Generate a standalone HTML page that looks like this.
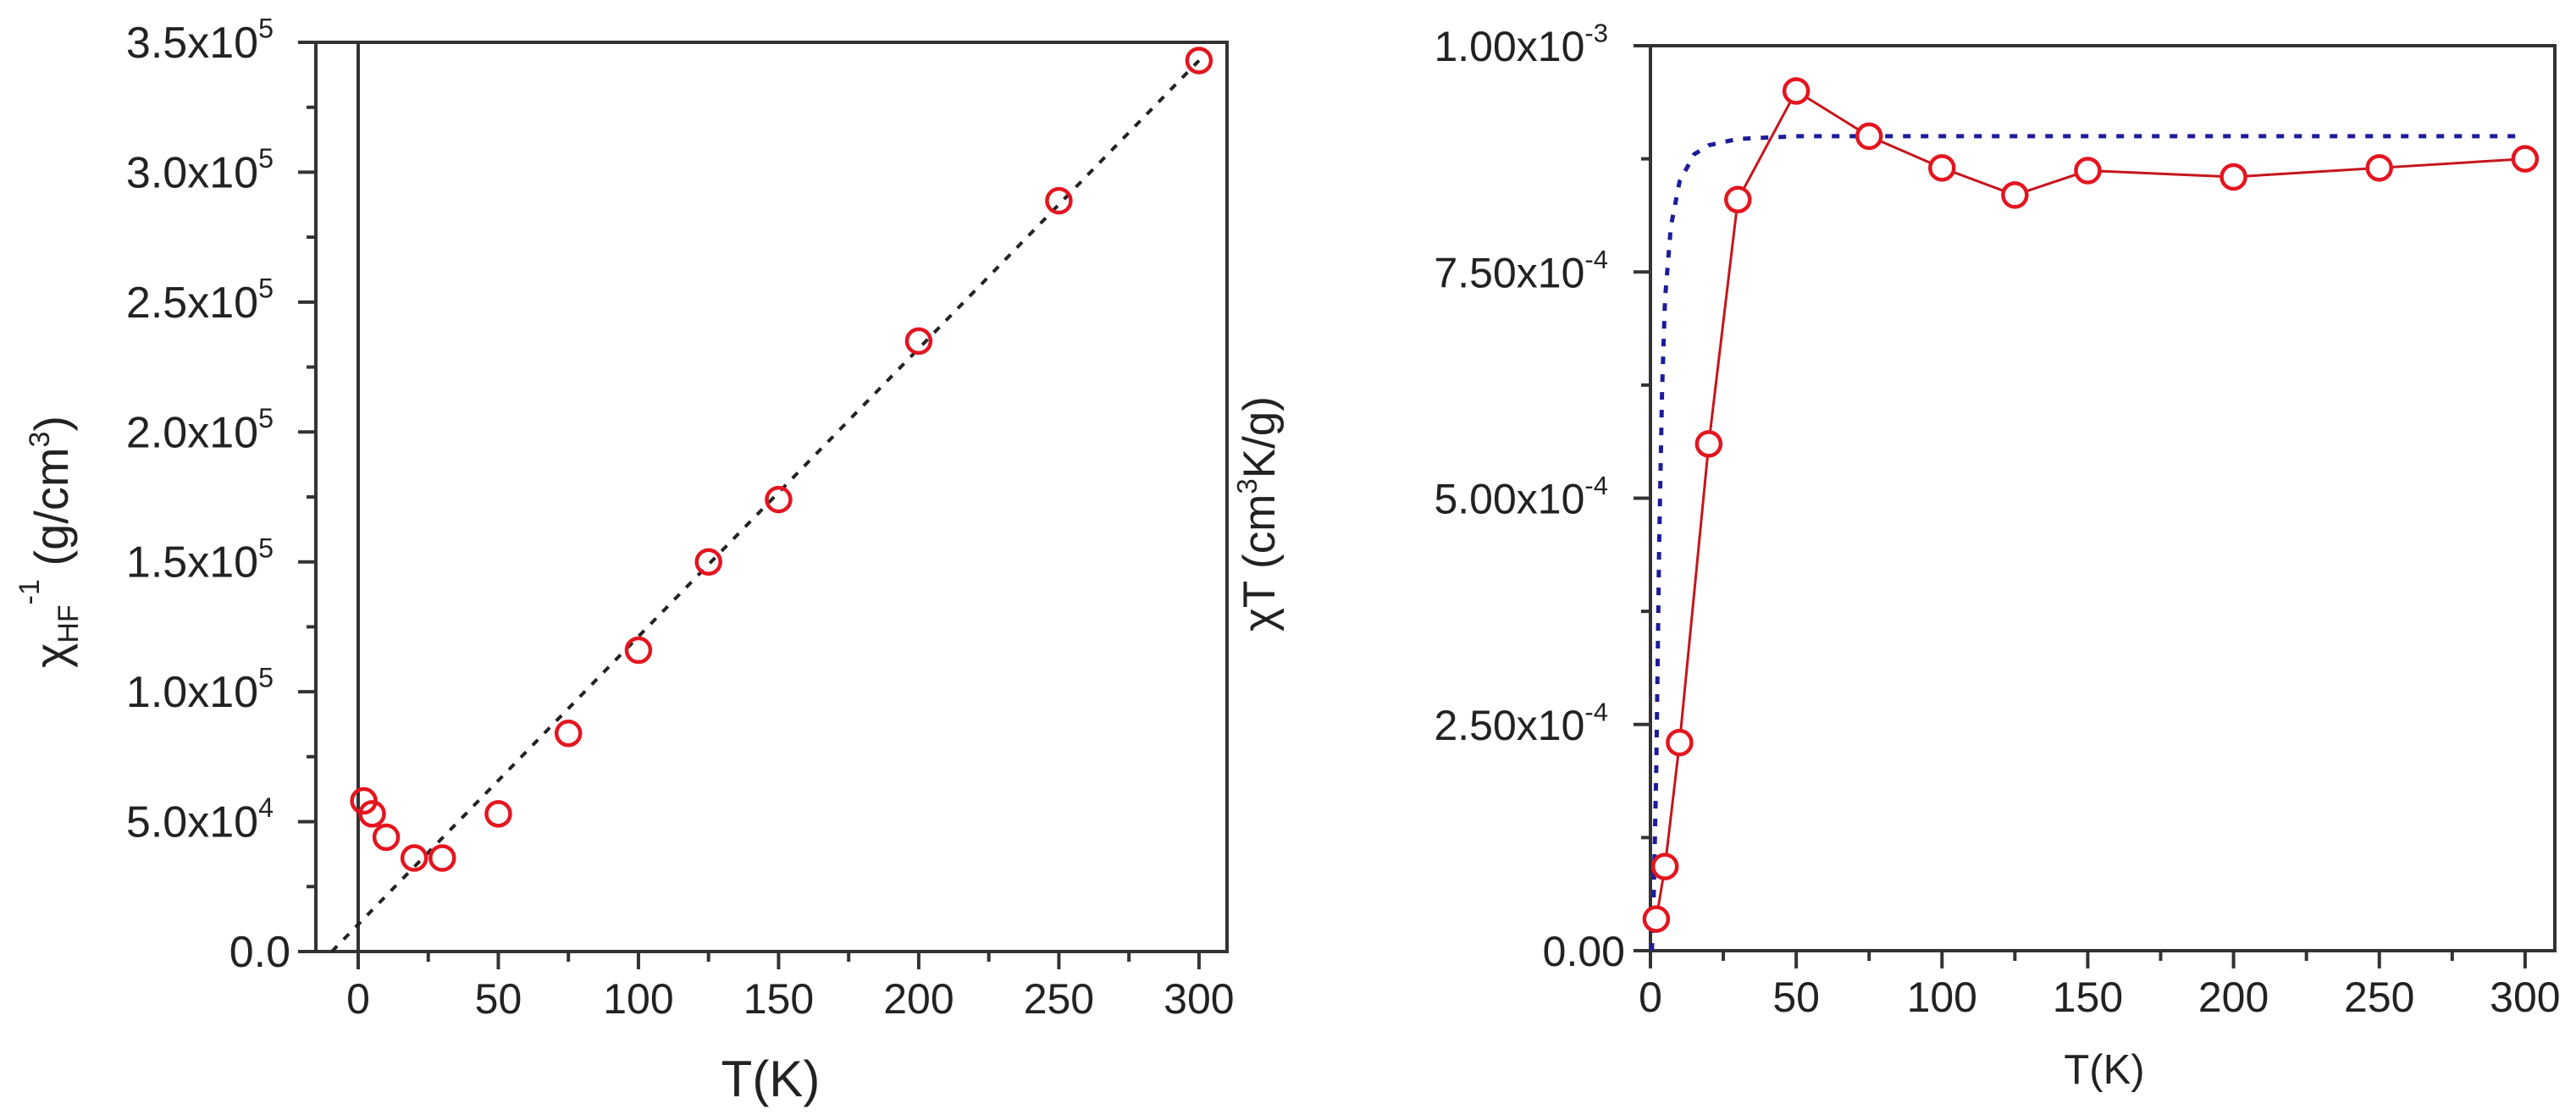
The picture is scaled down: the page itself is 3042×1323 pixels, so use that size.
<!DOCTYPE html>
<html><head><meta charset="utf-8"><style>
html,body{margin:0;padding:0;background:#fff}
svg{display:block}
text{font-family:"Liberation Sans",Arial,sans-serif;fill:#222}
</style></head><body>
<svg id="fig" width="3042" height="1323" viewBox="0 0 3042 1323" xmlns="http://www.w3.org/2000/svg">
<g id="left"></g>
<g id="right"></g>
</svg>
<script>
// ---- Left chart data ----
const leftT = [2, 5, 10, 20, 30, 50, 75, 100, 125, 150, 200, 250, 300];
const leftInvChi = [0.58, 0.53, 0.44, 0.36, 0.36, 0.53, 0.84, 1.16, 1.50, 1.74, 2.35, 2.89, 3.43]; // x1e5
const leftFitT = [-9.4, 300];
const leftFitVal = [0, 3.43];
const leftXTicks = [0, 50, 100, 150, 200, 250, 300];
const leftYTicks = [0, 0.5, 1.0, 1.5, 2.0, 2.5, 3.0, 3.5];
const leftYTickLabels = ["0.0", "5.0x10|4", "1.0x10|5", "1.5x10|5", "2.0x10|5", "2.5x10|5", "3.0x10|5", "3.5x10|5"];
// ---- Right chart data ----
const rightT = [2, 5, 10, 20, 30, 50, 75, 100, 125, 150, 200, 250, 300];
const rightChiT = [0.35, 0.93, 2.3, 5.6, 8.3, 9.5, 9.0, 8.65, 8.35, 8.62, 8.55, 8.65, 8.75]; // x1e-4
const rightFitT = [0.5, 1, 2, 3, 4, 5, 7, 10, 15, 20, 30, 50, 100, 300];
const rightFitVal = [0.0, 0.4, 2.0, 4.5, 6.2, 7.2, 8.0, 8.5, 8.8, 8.9, 8.97, 9.0, 9.0, 9.0];
const rightXTicks = [0, 50, 100, 150, 200, 250, 300];
const rightYTicks = [0, 2.5, 5.0, 7.5, 10.0];
const rightYTickLabels = ["0.00", "2.50x10|-4", "5.00x10|-4", "7.50x10|-4", "1.00x10|-3"];

const NS = "http://www.w3.org/2000/svg";
function mk(parent, tag, attrs) {
  const e = document.createElementNS(NS, tag);
  for (const k in attrs) e.setAttribute(k, attrs[k]);
  parent.appendChild(e);
  return e;
}
function label(parent, x, y, str, size, anchor) {
  const [base, sup] = str.split("|");
  const t = mk(parent, "text", {x: x, y: y, "font-size": size, "text-anchor": anchor});
  t.textContent = base;
  if (sup !== undefined) {
    const s = document.createElementNS(NS, "tspan");
    s.setAttribute("dy", -size * 0.45);
    s.setAttribute("font-size", size * 0.62);
    s.textContent = sup;
    t.appendChild(s);
  }
  return t;
}

// ===== LEFT =====
(function () {
  const g = document.getElementById("left");
  const L = 373, R = 1449, T = 50, B = 1124;
  const xmin = -15.1, xmax = 310, ymax = 3.5;
  const sx = v => L + (v - xmin) / (xmax - xmin) * (R - L);
  const sy = v => B - v / ymax * (B - T);
  const c = "#333";
  let e;
  e = mk(g, "rect", {x: L, y: T, width: R - L, height: B - T, fill: "none", stroke: c, "stroke-width": 4});
   
  e = mk(g, "line", {x1: sx(0), y1: T, x2: sx(0), y2: B + 21, stroke: c, "stroke-width": 4});
   
  for (let v = 0; v <= 300; v += 25) {
    const major = v % 50 === 0;
    e = mk(g, "line", {x1: sx(v), y1: B, x2: sx(v), y2: B + (major ? 21 : 12), stroke: c, "stroke-width": 4});
     
  }
  leftXTicks.forEach(v => {
    e = label(g, sx(v), 1197, String(v), 50, "middle");
     
  });
  for (let v = 0.25; v < 3.5; v += 0.5) {
    e = mk(g, "line", {x1: L - 11, y1: sy(v), x2: L, y2: sy(v), stroke: c, "stroke-width": 4});
     
  }
  leftYTicks.forEach((v, i) => {
    e = mk(g, "line", {x1: L - 21, y1: sy(v), x2: L, y2: sy(v), stroke: c, "stroke-width": 4});
     
    e = label(g, L - (i === 0 ? 30 : 50), sy(v) + 18, leftYTickLabels[i], 52, "end");
     
  });
  e = mk(g, "line", {x1: sx(leftFitT[0]), y1: sy(leftFitVal[0]), x2: sx(leftFitT[1]), y2: sy(leftFitVal[1]), stroke: "#222", "stroke-width": 4, "stroke-dasharray": "9 11"});
   
  leftT.forEach((t, i) => {
    e = mk(g, "circle", {cx: sx(t), cy: sy(leftInvChi[i]), r: 14, fill: "none", stroke: "#e3151f", "stroke-width": 4.5});
     
  });
  e = label(g, 910, 1295, "T(K)", 60, "middle");
   
  const yt = mk(g, "text", {x: 0, y: 0, "font-size": 56, "text-anchor": "middle", transform: "translate(80,640) rotate(-90)"});
   
  yt.innerHTML = '<tspan>χ</tspan><tspan font-size="34" dy="12">HF</tspan><tspan font-size="34" dy="-46">-1</tspan><tspan dy="34"> (g/cm</tspan><tspan font-size="34" dy="-22">3</tspan><tspan dy="22">)</tspan>';
})();

// ===== RIGHT =====
(function () {
  const g = document.getElementById("right");
  const L = 1949, R = 3017, T = 54, B = 1123;
  const xmin = 0, xmax = 310.2, ymax = 10;
  const sx = v => L + (v - xmin) / (xmax - xmin) * (R - L);
  const sy = v => B - v / ymax * (B - T);
  const c = "#333";
  let e;
  e = mk(g, "rect", {x: L, y: T, width: R - L, height: B - T, fill: "none", stroke: c, "stroke-width": 4});
   
  for (let v = 0; v <= 300; v += 25) {
    const major = v % 50 === 0;
    e = mk(g, "line", {x1: sx(v), y1: B, x2: sx(v), y2: B + (major ? 21 : 12), stroke: c, "stroke-width": 4});
     
  }
  rightXTicks.forEach(v => {
    e = label(g, sx(v), 1195, String(v), 50, "middle");
     
  });
  for (let v = 1.25; v < 10; v += 2.5) {
    e = mk(g, "line", {x1: L - 11, y1: sy(v), x2: L, y2: sy(v), stroke: c, "stroke-width": 4});
     
  }
  rightYTicks.forEach((v, i) => {
    e = mk(g, "line", {x1: L - 20, y1: sy(v), x2: L, y2: sy(v), stroke: c, "stroke-width": 4});
     
    e = label(g, L - (i === 0 ? 30 : 50), sy(v) + 18, rightYTickLabels[i], 50, "end");
     
  });
  const fitPts = rightFitT.map((t, i) => sx(t) + "," + sy(rightFitVal[i])).join(" ");
  e = mk(g, "polyline", {points: fitPts, fill: "none", stroke: "#1c1c9a", "stroke-width": 5, "stroke-dasharray": "9 12"});
   
  const dataPts = rightT.map((t, i) => sx(t) + "," + sy(rightChiT[i])).join(" ");
  e = mk(g, "polyline", {points: dataPts, fill: "none", stroke: "#c4161c", "stroke-width": 3});
   
  rightT.forEach((t, i) => {
    e = mk(g, "circle", {cx: sx(t), cy: sy(rightChiT[i]), r: 14, fill: "#fff", stroke: "#e3151f", "stroke-width": 4.5});
     
  });
  e = label(g, 2485, 1280, "T(K)", 49, "middle");
   
  const yt = mk(g, "text", {x: 0, y: 0, "font-size": 53, "text-anchor": "middle", transform: "translate(1505,607) rotate(-90)"});
   
  yt.innerHTML = '<tspan>χT (cm</tspan><tspan font-size="33" dy="-21">3</tspan><tspan dy="21">K/g)</tspan>';
})();
</script>
</body></html>
